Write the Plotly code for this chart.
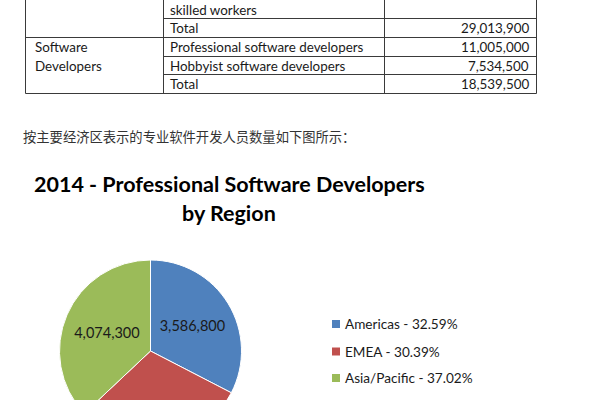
import plotly.graph_objects as go

# ---------------- data ----------------
regions = ["Americas", "EMEA", "Asia/Pacific"]
developers = [3586800, 3343900, 4074300]
region_colors = ["#4F81BD", "#C0504D", "#9BBB59"]

table_group = ["Software", "Developers"]
table_items = ["skilled workers", "Total", "Professional software developers",
               "Hobbyist software developers", "Total"]
table_values = ["", "29,013,900", "11,005,000", "7,534,500", "18,539,500"]

intro_text = "按主要经济区表示的专业软件开发人员数量如下图所示："
title_lines = ["2014 - Professional Software Developers", "by Region"]

# ---------------- figure ----------------
W, H = 600, 450
fig = go.Figure()

# empty trace so the pixel-like cartesian axes exist for shapes/annotations
fig.add_trace(go.Scatter(x=[], y=[], mode="markers", showlegend=False, hoverinfo="skip"))

total = sum(developers)
fig.add_trace(go.Pie(
    labels=regions,
    values=developers,
    sort=False,
    direction="clockwise",
    rotation=0,
    marker=dict(colors=region_colors, line=dict(color="white", width=1)),
    texttemplate="%{value:,}",
    textposition=["inside", "none", "inside"],  # EMEA label falls below the visible page
    insidetextorientation="horizontal",
    textfont=dict(family="Lato", size=14.5, color="#1a1a1a"),
    domain=dict(x=[59.5 / W, 241.5 / W], y=[1 - 442 / H, 1 - 260 / H]),
    showlegend=False,
    hoverinfo="skip",
))

shapes = []
annotations = []
line_style = dict(color="#3a3a3a", width=1)

# table grid
for x in [25.5, 163.5, 384.5, 536.5]:
    shapes.append(dict(type="line", x0=x, x1=x, y0=-2, y1=93.5, line=line_style))
row_lines = [(18.5, 163.5), (37.5, 25.5), (56.5, 163.5), (74.5, 163.5), (93.5, 25.5)]
for y, x0 in row_lines:
    shapes.append(dict(type="line", x0=x0, x1=536.5, y0=y, y1=y, line=line_style))

table_font = dict(family="Lato", size=13.4, color="#1a1a1a")
row_centers = [9.5, 28, 47, 65.5, 84]
for yc, item, val in zip(row_centers, table_items, table_values):
    annotations.append(dict(x=168, y=yc, text=item, xanchor="left", yanchor="middle",
                            showarrow=False, font=table_font))
    if val:
        annotations.append(dict(x=531, y=yc, text=val, xanchor="right", yanchor="middle",
                                showarrow=False, font=table_font))
for yc, g in zip([47, 65.5], table_group):
    annotations.append(dict(x=33, y=yc, text=g, xanchor="left", yanchor="middle",
                            showarrow=False, font=table_font))

# intro sentence
annotations.append(dict(x=21, y=136.5, text=intro_text, xanchor="left", yanchor="middle",
                        showarrow=False,
                        font=dict(family="Noto Sans CJK SC", size=13.3, color="#333333")))

# chart title
for yc, t in zip([184, 213], title_lines):
    annotations.append(dict(x=229, y=yc, text="<b>%s</b>" % t, xanchor="center",
                            yanchor="middle", showarrow=False,
                            font=dict(family="Lato", size=21.5, color="#000000")))

# legend
legend_y = [324, 351.5, 378]
for yc, name, v, c in zip(legend_y, regions, developers, region_colors):
    shapes.append(dict(type="rect", x0=332, x1=340, y0=yc - 4, y1=yc + 4,
                       fillcolor=c, line=dict(width=0)))
    annotations.append(dict(x=343, y=yc, text="%s - %.2f%%" % (name, v / total * 100),
                            xanchor="left", yanchor="middle", showarrow=False,
                            font=dict(family="Lato", size=13.6, color="#1a1a1a")))

fig.update_layout(
    width=W, height=H,
    margin=dict(l=0, r=0, t=0, b=0),
    paper_bgcolor="white", plot_bgcolor="white",
    xaxis=dict(range=[0, W], visible=False, fixedrange=True, domain=[0, 1]),
    yaxis=dict(range=[H, 0], visible=False, fixedrange=True, domain=[0, 1]),
    shapes=shapes,
    annotations=annotations,
)

fig.write_html(
    "out.html",
    config={"displayModeBar": False},
    post_script="document.documentElement.style.overflow='hidden';"
                "document.body.style.overflow='hidden';document.body.style.margin='0';",
)
